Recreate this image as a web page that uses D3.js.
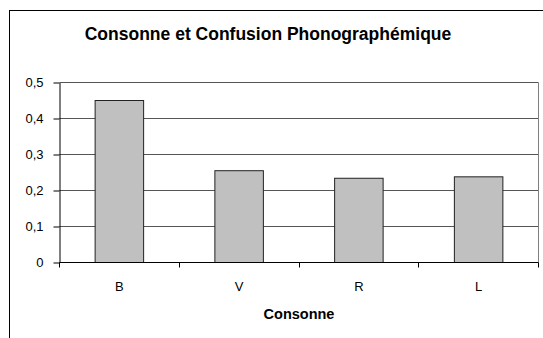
<!DOCTYPE html>
<html>
<head>
<meta charset="utf-8">
<script src="https://cdn.jsdelivr.net/npm/d3@7"></script>
<style>
  html, body { margin: 0; padding: 0; background: #fff; }
  svg { display: block; font-family: "Liberation Sans", Arial, sans-serif; }
</style>
</head>
<body>
<svg id="chart" width="543" height="338"></svg>
<script>
// Consonnes et proportion de confusions phonographémiques
const categories = ["B", "V", "R", "L"];
const values = [0.45, 0.255, 0.234, 0.238];
const yTicks = [0, 0.1, 0.2, 0.3, 0.4, 0.5];
const yTickLabels = ["0", "0,1", "0,2", "0,3", "0,4", "0,5"];
const title = "Consonne et Confusion Phonographémique";
const xTitle = "Consonne";

const svg = d3.select("#chart");

// Cadre de la zone de graphique
svg.append("rect")
  .attr("x", 9.5).attr("y", 10.5)
  .attr("width", 700).attr("height", 500)
  .attr("fill", "#fff").attr("stroke", "#000").attr("stroke-width", 1);

const x = d3.scaleBand()
  .domain(categories)
  .range([59.5, 538.5])
  .paddingInner(0.595)
  .paddingOuter(0.2975);

const y = d3.scaleLinear()
  .domain([0, 0.5])
  .range([262.5, 82.5]);

// Quadrillage horizontal
svg.append("g")
  .selectAll("line")
  .data(yTicks.slice(1))
  .join("line")
  .attr("x1", 59.5).attr("x2", 538.5)
  .attr("y1", d => y(d)).attr("y2", d => y(d))
  .attr("stroke", "#555").attr("stroke-width", 1);

// Bordure droite de la zone de traçage
svg.append("line")
  .attr("x1", 538.5).attr("x2", 538.5)
  .attr("y1", y(0.5)).attr("y2", y(0))
  .attr("stroke", "#808080").attr("stroke-width", 1);

// Barres
svg.append("g")
  .selectAll("rect")
  .data(values)
  .join("rect")
  .attr("x", (d, i) => x(categories[i]))
  .attr("y", d => y(d))
  .attr("width", x.bandwidth())
  .attr("height", d => y(0) - y(d))
  .attr("fill", "#c0c0c0")
  .attr("stroke", "#222")
  .attr("stroke-width", 1);

// Axe vertical
const yAxis = d3.axisLeft(y)
  .tickValues(yTicks)
  .tickFormat((d, i) => yTickLabels[i])
  .tickSize(6)
  .tickSizeOuter(0)
  .tickPadding(10);

const gy = svg.append("g")
  .attr("transform", "translate(59.5,0)")
  .call(yAxis);
gy.select(".domain").attr("stroke", "#000");
gy.selectAll(".tick line").attr("stroke", "#000");
gy.selectAll(".tick text")
  .attr("font-size", 13)
  .attr("font-family", "Liberation Sans, Arial, sans-serif")
  .attr("fill", "#000");

// Axe horizontal avec graduations entre les catégories
const gx = svg.append("g")
  .attr("transform", `translate(0,${y(0)})`);
gx.append("line")
  .attr("x1", 59.5).attr("x2", 538.5)
  .attr("stroke", "#000");
const bounds = categories.map(c => x(c) - x.step() * x.paddingInner() / 2);
bounds.push(538.5);
gx.selectAll("line.sep")
  .data(bounds)
  .join("line")
  .attr("class", "sep")
  .attr("x1", d => Math.round(d - 0.5) + 0.5)
  .attr("x2", d => Math.round(d - 0.5) + 0.5)
  .attr("y1", 0).attr("y2", 5)
  .attr("stroke", "#000");
gx.selectAll("text")
  .data(categories)
  .join("text")
  .attr("x", d => x(d) + x.bandwidth() / 2)
  .attr("y", 28.5)
  .attr("text-anchor", "middle")
  .attr("font-size", 13)
  .attr("fill", "#000")
  .text(d => d);

// Titres
svg.append("text")
  .attr("x", 268).attr("y", 40)
  .attr("text-anchor", "middle")
  .attr("font-size", 17.5)
  .attr("font-weight", "bold")
  .text(title);

svg.append("text")
  .attr("x", 299).attr("y", 319)
  .attr("text-anchor", "middle")
  .attr("font-size", 14.5)
  .attr("font-weight", "bold")
  .text(xTitle);
</script>
</body>
</html>
